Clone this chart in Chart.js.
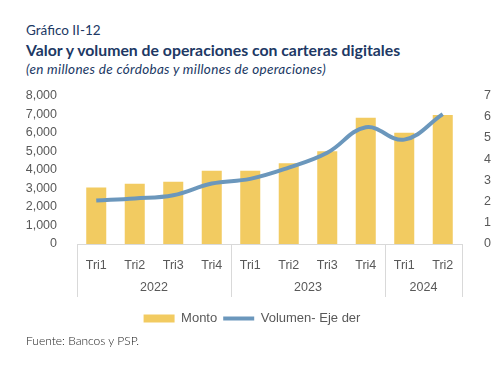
<!DOCTYPE html>
<html>
<head>
<meta charset="utf-8">
<script src="https://cdn.jsdelivr.net/npm/chart.js@4"></script>
<style>
  body { margin: 0; background: #fff; width: 504px; height: 379px; position: relative; overflow: hidden; }
  .t { position: absolute; left: 26px; white-space: nowrap; font-family: Lato, "Liberation Sans", sans-serif; color: #203864; font-weight: normal; }
  #num { top: 22px; font-size: 13.5px; }
  #title { top: 40px; font-size: 15.8px; font-weight: bold; }
  #sub { top: 61px; font-size: 13.5px; font-style: italic; letter-spacing: 0.3px; }
  #src { top: 333px; font-size: 12px; color: #222; font-weight: 300; }
  #c { position: absolute; left: 0; top: 74px; }
</style>
</head>
<body>
<div class="t" id="num">Gráfico II-12</div>
<div class="t" id="title">Valor y volumen de operaciones con carteras digitales</div>
<div class="t" id="sub">(en millones de córdobas y millones de operaciones)</div>
<canvas id="c" width="504" height="261"></canvas>
<div class="t" id="src">Fuente: Bancos y PSP.</div>
<script>
const quarters = ["Tri1", "Tri2", "Tri3", "Tri4", "Tri1", "Tri2", "Tri3", "Tri4", "Tri1", "Tri2"];
const years = ["2022", "2023", "2024"];
const yearCounts = [4, 4, 2];
const monto = [3050, 3250, 3350, 3950, 3950, 4350, 5000, 6800, 6000, 6950];
const volumen = [2.05, 2.15, 2.3, 2.85, 3.07, 3.6, 4.3, 5.5, 4.92, 6.12];

const tickColor = "#595959";
const font = { family: "'Liberation Sans', Arial, sans-serif", size: 12.5 };

const yearGroups = {
    id: "yearGroups",
    afterDraw(chart) {
        const ctx = chart.ctx;
        const x = chart.scales.x;
        const bottom = chart.chartArea.bottom;
        const half = (x.getPixelForValue(1) - x.getPixelForValue(0)) / 2;
        ctx.save();
        ctx.strokeStyle = "#d9d9d9";
        ctx.lineWidth = 1;
        ctx.fillStyle = tickColor;
        ctx.font = font.size + "px " + font.family;
        ctx.textAlign = "center";
        ctx.textBaseline = "middle";
        let idx = 0;
        years.forEach((yr, i) => {
            const left = x.getPixelForValue(idx) - half;
            const right = x.getPixelForValue(idx + yearCounts[i] - 1) + half;
            [left, right].forEach(px => {
                ctx.beginPath();
                ctx.moveTo(Math.round(px) + 0.5, bottom);
                ctx.lineTo(Math.round(px) + 0.5, bottom + 53);
                ctx.stroke();
            });
            ctx.fillText(yr, (left + right) / 2, bottom + 44);
            idx += yearCounts[i];
        });
        ctx.restore();
    }
};

new Chart(document.getElementById("c").getContext("2d"), {
    type: "bar",
    data: {
        labels: quarters,
        datasets: [
            { label: "Monto", data: monto, backgroundColor: "#F2CB61", borderWidth: 0,
              yAxisID: "y", order: 2, pointStyle: "rect",
              barPercentage: 0.52, categoryPercentage: 1 },
            { type: "line", label: "Volumen- Eje der", data: volumen, borderColor: "#6B97BC",
              backgroundColor: "#6B97BC", borderWidth: 4, pointRadius: 0, tension: 0.4,
              yAxisID: "y1", order: 1, pointStyle: "line" }
        ]
    },
    options: {
        responsive: false,
        animation: false,
        devicePixelRatio: 1,
        layout: { padding: { top: 8, left: 0, right: 0, bottom: 0 } },
        plugins: {
            tooltip: { enabled: false },
            legend: {
                position: "bottom",
                labels: {
                    usePointStyle: true, pointStyleWidth: 31, boxHeight: 8,
                    padding: 6, color: tickColor, font: { family: font.family, size: 13 },
                    sort: (a, b) => a.datasetIndex - b.datasetIndex
                }
            }
        },
        scales: {
            x: {
                grid: { display: false },
                border: { color: "#d9d9d9" },
                ticks: { color: tickColor, font: font, padding: 6, maxRotation: 0 },
                afterFit(s) { s.height = 62; }
            },
            y: {
                position: "left", min: 0, max: 8000,
                grid: { display: false }, border: { display: false },
                ticks: { stepSize: 1000, autoSkip: false, color: tickColor, font: font, padding: 12,
                         callback: v => v.toLocaleString("en-US") },
                afterFit(s) { s.width = 77; }
            },
            y1: {
                position: "right", min: 0, max: 7,
                grid: { display: false }, border: { display: false },
                ticks: { stepSize: 1, autoSkip: false, color: tickColor, font: font, padding: 14 },
                afterFit(s) { s.width = 42; }
            }
        }
    },
    plugins: [yearGroups]
});
</script>
</body>
</html>
